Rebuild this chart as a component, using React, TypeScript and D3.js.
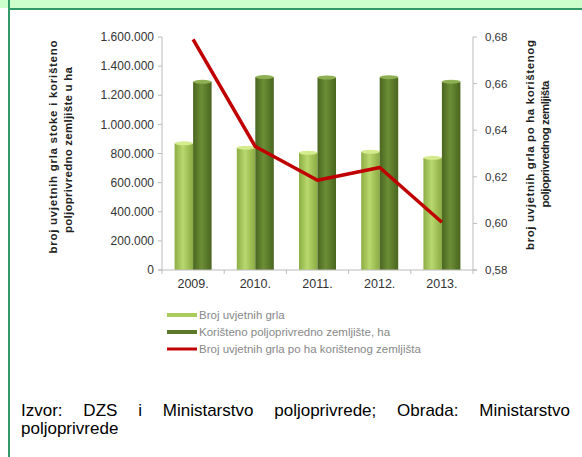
import React from "react";
import * as d3 from "d3";

const years = ["2009.", "2010.", "2011.", "2012.", "2013."];
const grla = [870000, 840000, 805000, 812000, 770000];
const zemljiste = [1292000, 1325000, 1322000, 1324000, 1293000];
const ratio = [0.679, 0.633, 0.6185, 0.624, 0.6005];
const leftTicks = [0, 200000, 400000, 600000, 800000, 1000000, 1200000, 1400000, 1600000];
const rightTicks = [0.58, 0.6, 0.62, 0.64, 0.66, 0.68];
const legendLabels = [
  "Broj uvjetnih grla",
  "Korišteno poljoprivredno zemljište, ha",
  "Broj uvjetnih grla po ha korištenog zemljišta",
];
const footerLine1 = "Izvor: DZS i Ministarstvo poljoprivrede; Obrada: Ministarstvo";
const footerLine2 = "poljoprivrede";

const W = 582, H = 457;
const plot = { left: 162, right: 473, top: 37, bottom: 270 };
const font = "Arial, 'Liberation Sans', sans-serif";
const footerSize = 17;

function justify(text: string, x0: number, x1: number): { w: string; x: number }[] {
  const words = text.split(" ");
  let widths = words.map((w) => w.length * footerSize * 0.55);
  try {
    const ctx = document.createElement("canvas").getContext("2d");
    if (ctx) {
      ctx.font = `${footerSize}px Arial, "Liberation Sans", sans-serif`;
      widths = words.map((w) => ctx.measureText(w).width);
    }
  } catch (e) {}
  const total = widths.reduce((a, b) => a + b, 0);
  const gap = (x1 - x0 - total) / (words.length - 1);
  let cx = x0;
  return words.map((w, i) => {
    const r = { w, x: cx };
    cx += widths[i] + gap;
    return r;
  });
}

export default function App() {
  const x = d3.scaleBand().domain(years).range([plot.left, plot.right]);
  const yL = d3.scaleLinear().domain([0, 1600000]).range([plot.bottom, plot.top]);
  const yR = d3.scaleLinear().domain([0.58, 0.68]).range([plot.bottom, plot.top]);
  const fmt = (v: number) => d3.format(",")(v).replace(/,/g, ".");
  const fmtR = (v: number) => v.toFixed(2).replace(".", ",");
  const bw = 18.5;
  const line = d3
    .line<number>()
    .x((_, i) => (x(years[i]) as number) + x.bandwidth() / 2)
    .y((d) => yR(d));
  const words = justify(footerLine1, 21, 570);

  return (
    <svg
      width={W}
      height={H}
      style={{ position: "absolute", left: 0, top: 0, background: "#fff" }}
      fontFamily={font}
    >
      <defs>
        <linearGradient id="gl" x1="0" x2="1" y1="0" y2="0">
          <stop offset="0" stopColor="#8cae45" />
          <stop offset="0.45" stopColor="#b9d86e" />
          <stop offset="1" stopColor="#8aab42" />
        </linearGradient>
        <linearGradient id="gd" x1="0" x2="1" y1="0" y2="0">
          <stop offset="0" stopColor="#4a6620" />
          <stop offset="0.45" stopColor="#6c8e36" />
          <stop offset="1" stopColor="#49651f" />
        </linearGradient>
      </defs>
      {/* frame */}
      <rect x={0} y={0} width={W} height={8} fill="#ccffcc" />
      <rect x={8} y={8} width={W - 8} height={2} fill="#339966" />
      <rect x={8} y={0} width={2} height={H} fill="#339966" />

      {/* bars */}
      {years.map((yr, i) => {
        const cx = (x(yr) as number) + x.bandwidth() / 2;
        return (
          <g key={yr}>
            <rect x={cx - bw} y={yL(grla[i])} width={bw} height={plot.bottom - yL(grla[i])} fill="url(#gl)" />
            <ellipse cx={cx - bw / 2} cy={yL(grla[i])} rx={bw / 2} ry={2} fill="#d4eb8e" />
            <rect x={cx} y={yL(zemljiste[i])} width={bw} height={plot.bottom - yL(zemljiste[i])} fill="url(#gd)" />
            <ellipse cx={cx + bw / 2} cy={yL(zemljiste[i])} rx={bw / 2} ry={2} fill="#8fb052" />
          </g>
        );
      })}

      {/* axes */}
      <line x1={plot.left} x2={plot.left} y1={plot.top} y2={plot.bottom} stroke="#bbb" />
      <line x1={plot.right} x2={plot.right} y1={plot.top} y2={plot.bottom} stroke="#bbb" />
      <line x1={plot.left - 4} x2={plot.right + 4} y1={plot.bottom} y2={plot.bottom} stroke="#bbb" />
      {leftTicks.map((t) => (
        <g key={t}>
          <line x1={plot.left - 4} x2={plot.left} y1={yL(t)} y2={yL(t)} stroke="#bbb" />
          <text x={plot.left - 8} y={yL(t)} dy="0.35em" textAnchor="end" fontSize={12} fill="#333">
            {fmt(t)}
          </text>
        </g>
      ))}
      {rightTicks.map((t) => (
        <g key={t}>
          <line x1={plot.right} x2={plot.right + 4} y1={yR(t)} y2={yR(t)} stroke="#bbb" />
          <text x={plot.right + 12} y={yR(t)} dy="0.35em" textAnchor="start" fontSize={11.5} fill="#333">
            {fmtR(t)}
          </text>
        </g>
      ))}
      {years.map((yr) => (
        <g key={yr}>
          <line x1={x(yr) as number} x2={x(yr) as number} y1={plot.bottom} y2={plot.bottom + 4} stroke="#bbb" />
          <text x={(x(yr) as number) + x.bandwidth() / 2} y={plot.bottom + 18} textAnchor="middle" fontSize={12.5} fill="#333">
            {yr}
          </text>
        </g>
      ))}
      <line x1={plot.right} x2={plot.right} y1={plot.bottom} y2={plot.bottom + 4} stroke="#bbb" />

      {/* line */}
      <path d={line(ratio) as string} fill="none" stroke="#c00000" strokeWidth={3.5} strokeLinejoin="round" />

      {/* axis titles */}
      <text transform="translate(57,147) rotate(-90)" textAnchor="middle" fontSize={11.5} fontWeight="bold" fill="#222" textLength={213} lengthAdjust="spacing">
        broj uvjetnih grla stoke i korišteno
      </text>
      <text transform="translate(72,150) rotate(-90)" textAnchor="middle" fontSize={11.5} fontWeight="bold" fill="#222" textLength={166} lengthAdjust="spacing">
        poljoprivredno zemljište u ha
      </text>
      <text transform="translate(534,145) rotate(-90)" textAnchor="middle" fontSize={11.5} fontWeight="bold" fill="#222" textLength={210} lengthAdjust="spacing">
        broj uvjetnih grla po ha korištenog
      </text>
      <text transform="translate(549,144) rotate(-90)" textAnchor="middle" fontSize={11.5} fontWeight="bold" fill="#222" textLength={127} lengthAdjust="spacing">
        poljoprivrednog zemljišta
      </text>

      {/* legend */}
      {legendLabels.map((lab, i) => {
        const ly = 315 + i * 17;
        const col = i === 0 ? "#a9cc5c" : i === 1 ? "#5a7a2a" : "#c00000";
        return (
          <g key={lab}>
            <line x1={167} x2={197} y1={ly} y2={ly} stroke={col} strokeWidth={i === 2 ? 3 : 4} />
            <text x={199} y={ly} dy="0.35em" fontSize={11.5} fill="#888">
              {lab}
            </text>
          </g>
        );
      })}

      {/* footer */}
      <text y={416} fontSize={footerSize} fill="#000">
        {words.map((w, i) => (
          <tspan key={i} x={w.x}>
            {w.w}
          </tspan>
        ))}
      </text>
      <text x={21} y={434} fontSize={footerSize} fill="#000">
        {footerLine2}
      </text>
    </svg>
  );
}
